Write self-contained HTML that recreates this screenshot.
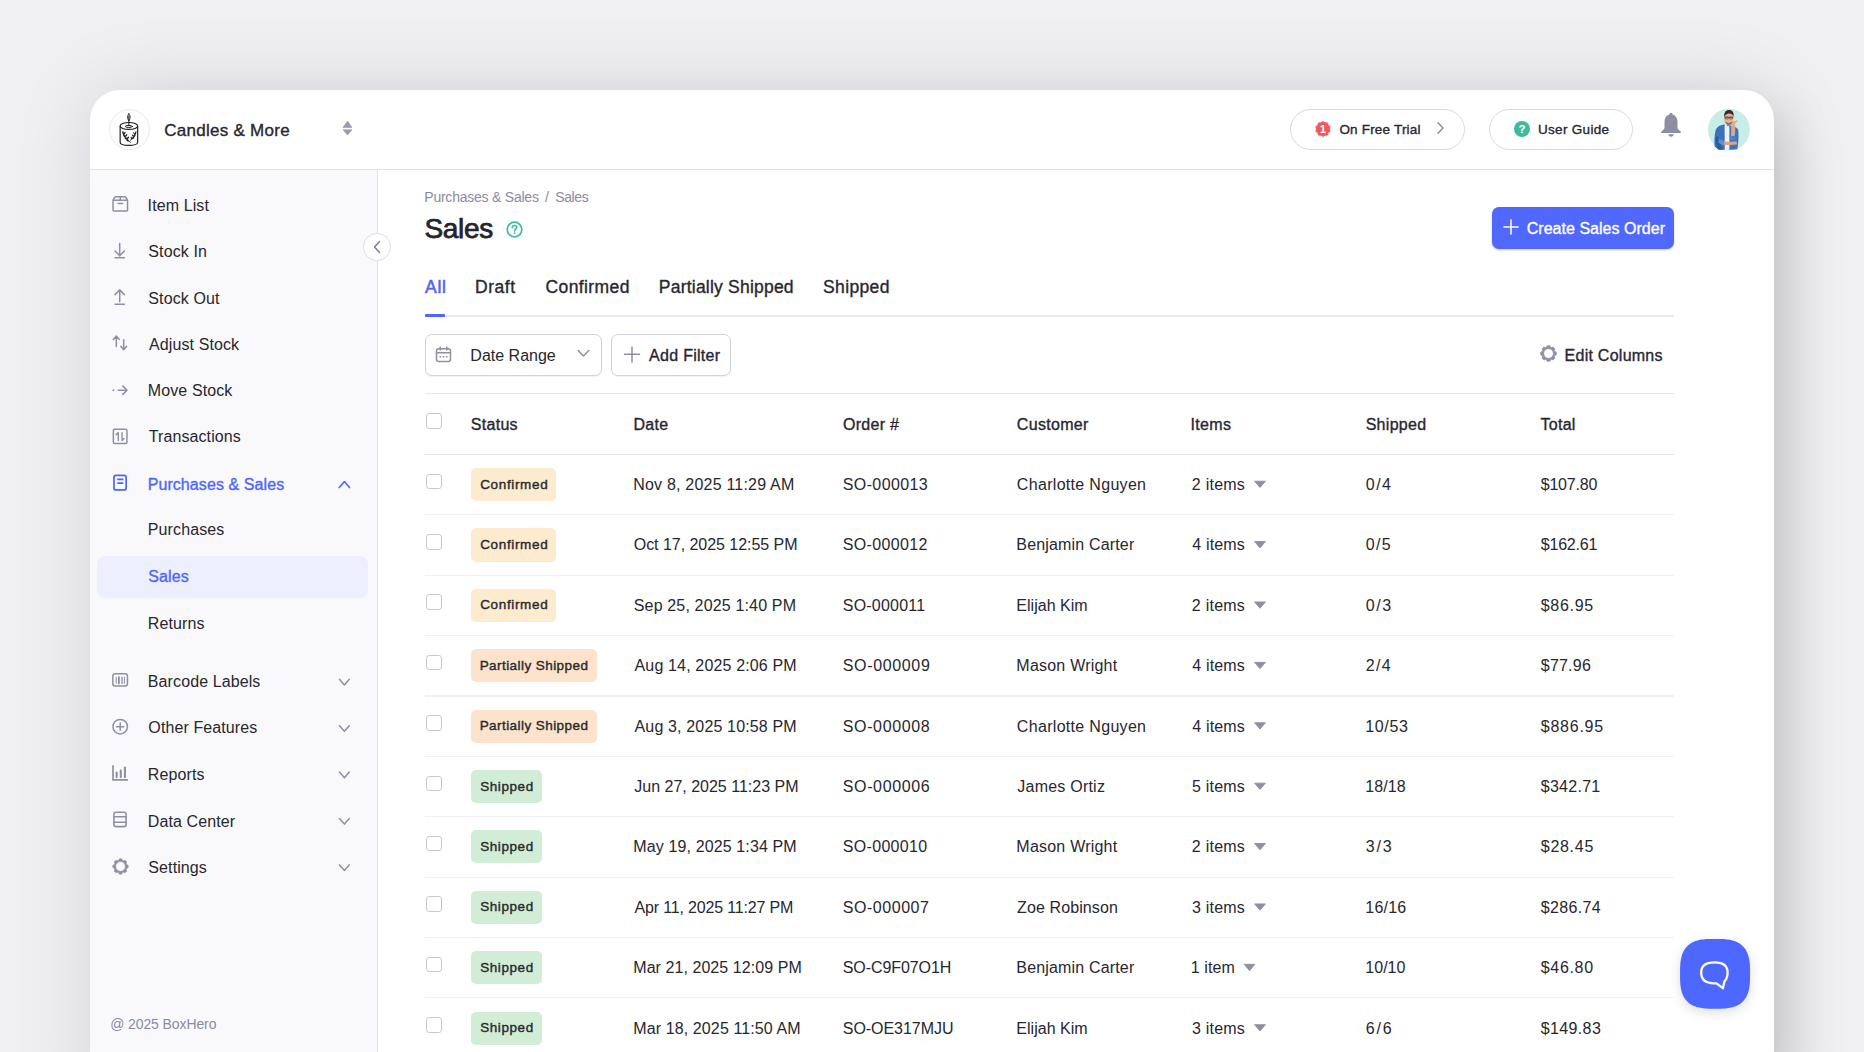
<!DOCTYPE html>
<html><head><meta charset="utf-8">
<style>
*{box-sizing:border-box;margin:0;padding:0}
html,body{width:1864px;height:1052px;overflow:hidden}
body{background:#f0f0f2;font-family:"Liberation Sans",sans-serif;color:#26262e;position:relative}
.card{position:absolute;left:90px;top:90px;width:1684px;height:1030px;background:#fff;border-radius:30px;box-shadow:0 0 80px rgba(20,20,40,0.115),40px 0 50px -30px rgba(0,0,0,0.15);overflow:hidden}
.side{position:absolute;left:0;top:80px;width:288px;height:1000px;background:#f9f9fb;border-right:1px solid #e1e1e8}
.hline{position:absolute;left:0;top:79px;width:100%;height:1px;background:#e1e1e8}
.abs{position:absolute}
.t{position:absolute;white-space:nowrap}
.med{-webkit-text-stroke:0.35px currentColor}
.ic{position:absolute;overflow:visible}
</style></head><body>
<div class="card"><div class="hline"></div><div class="side"></div></div>
<svg class="ic" style="left:0;top:0" width="400" height="1052" viewBox="0 0 400 1052" fill="none" stroke-linecap="round" stroke-linejoin="round"><path d="M113.05 200.2 V210.3 Q113.05 210.95 113.7 210.95 H126.9 Q127.55 210.95 127.55 210.3 V200.2 Z M113.05 200.2 L114.75 197.3 Q115.1 196.7 115.8 196.7 H124.8 Q125.5 196.7 125.85 197.3 L127.55 200.2 M120.3 196.7 V200.2 M118.1 203.6 H122.5" stroke="#8f8fa3" stroke-width="1.5"/><path d="M119.7 243.4 V256 M115.05 251 L119.7 255.7 L124.35 251 M115.05 257.85 H124.35" stroke="#8f8fa3" stroke-width="1.5"/><path d="M119.7 301.8 V290.2 M115.05 294.6 L119.7 289.9 L124.35 294.6 M115.05 304.25 H124.35" stroke="#8f8fa3" stroke-width="1.5"/><path d="M116.3 346.6 V336.2 M113.35 339.5 L116.3 336 L119.25 339.5 M123.7 339.7 V349.6 M120.75 346.3 L123.7 349.8 L126.65 346.3" stroke="#8f8fa3" stroke-width="1.5"/><circle cx="113.4" cy="390.25" r="0.95" fill="#8f8fa3"/><path d="M118.3 390.25 H127.1 M122.8 386.1 L127.1 390.25 L122.8 394.4" stroke="#8f8fa3" stroke-width="1.5"/><rect x="113.35" y="429.25" width="13.6" height="14.3" rx="1.4" stroke="#8f8fa3" stroke-width="1.5"/><path d="M118.3 440.6 V432.6 L116.2 434.8 M122 432.6 V440.6 L124.1 438.4" stroke="#8f8fa3" stroke-width="1.4"/><rect x="113.95" y="475.45" width="12.2" height="14.5" rx="2" stroke="#4e66fb" stroke-width="1.7"/><path d="M117.9 479.4 H122.7 M117.9 483.1 H122.7" stroke="#4e66fb" stroke-width="1.7"/><rect x="112.85" y="673.85" width="14.6" height="12.2" rx="2.2" stroke="#8f8fa3" stroke-width="1.5"/><path d="M116.2 677.2 V683.4" stroke="#8f8fa3" stroke-width="1"/><path d="M118.9 677.2 V683.4" stroke="#8f8fa3" stroke-width="1.8"/><path d="M122 677.2 V683.4" stroke="#8f8fa3" stroke-width="1.3"/><path d="M124.4 677.2 V683.4" stroke="#8f8fa3" stroke-width="1"/><circle cx="120.2" cy="726.65" r="7.25" stroke="#8f8fa3" stroke-width="1.5"/><path d="M120.2 723.1 V730.2 M116.65 726.65 H123.75" stroke="#8f8fa3" stroke-width="1.5"/><path d="M113 765.9 V779.9 H127.2" stroke="#8f8fa3" stroke-width="1.7"/><path d="M116.65 772.6 V777.1 M120.8 770.6 V777.1 M124.95 767.6 V777.1" stroke="#8f8fa3" stroke-width="2.1"/><rect x="113.9" y="812.2" width="12.2" height="14.4" rx="2.2" stroke="#8f8fa3" stroke-width="1.6"/><path d="M113.9 816.8 H126.1 M113.9 822.2 H126.1" stroke="#8f8fa3" stroke-width="1.6"/><path d="M339.3 487.6 L344.4 481.5 L349.5 487.6" stroke="#4e66fb" stroke-width="1.6"/><path d="M339.5 679.3 L344.4 684.9 L349.3 679.3" stroke="#8f8fa3" stroke-width="1.5"/><path d="M339.5 725.7 L344.4 731.3 L349.3 725.7" stroke="#8f8fa3" stroke-width="1.5"/><path d="M339.5 772.1 L344.4 777.7 L349.3 772.1" stroke="#8f8fa3" stroke-width="1.5"/><path d="M339.5 818.5 L344.4 824.1 L349.3 818.5" stroke="#8f8fa3" stroke-width="1.5"/><path d="M339.5 864.9 L344.4 870.5 L349.3 864.9" stroke="#8f8fa3" stroke-width="1.5"/></svg>
<svg class="ic" style="left:111.6px;top:857.6px" width="17" height="17" viewBox="0 0 17 17"><path d="M14.58 6.49 L16.14 7.50 L16.14 9.50 L14.58 10.51 A6.40 6.40 0 0 1 14.22 11.37 L14.60 13.19 L13.19 14.60 L11.37 14.22 A6.40 6.40 0 0 1 10.51 14.58 L9.50 16.14 L7.50 16.14 L6.49 14.58 A6.40 6.40 0 0 1 5.63 14.22 L3.81 14.60 L2.40 13.19 L2.78 11.37 A6.40 6.40 0 0 1 2.42 10.51 L0.86 9.50 L0.86 7.50 L2.42 6.49 A6.40 6.40 0 0 1 2.78 5.63 L2.40 3.81 L3.81 2.40 L5.63 2.78 A6.40 6.40 0 0 1 6.49 2.42 L7.50 0.86 L9.50 0.86 L10.51 2.42 A6.40 6.40 0 0 1 11.37 2.78 L13.19 2.40 L14.60 3.81 L14.22 5.63 A6.40 6.40 0 0 1 14.58 6.49 Z M13.40 8.5 A4.90 4.90 0 1 0 3.60 8.5 A4.90 4.90 0 1 0 13.40 8.5 Z" fill="#8f8fa3" fill-rule="evenodd" stroke="#8f8fa3" stroke-width="0.7" stroke-linejoin="round"/></svg>
<div class="t " style="left:147.60px;top:196px;font-size:16px;line-height:20px;color:#27272f;letter-spacing:0.100px;">Item List</div>
<div class="t " style="left:148.35px;top:242px;font-size:16px;line-height:20px;color:#27272f;letter-spacing:0.100px;">Stock In</div>
<div class="t " style="left:148.35px;top:289px;font-size:16px;line-height:20px;color:#27272f;letter-spacing:0.100px;">Stock Out</div>
<div class="t " style="left:149.10px;top:335px;font-size:16px;line-height:20px;color:#27272f;letter-spacing:0.100px;">Adjust Stock</div>
<div class="t " style="left:147.85px;top:381px;font-size:16px;line-height:20px;color:#27272f;letter-spacing:0.100px;">Move Stock</div>
<div class="t " style="left:148.72px;top:427px;font-size:16px;line-height:20px;color:#27272f;letter-spacing:0.100px;">Transactions</div>
<div class="t med" style="left:147.65px;top:475px;font-size:16px;line-height:20px;color:#4e66fb;letter-spacing:0.083px;">Purchases &amp; Sales</div>
<div class="abs" style="left:97px;top:556.2px;width:271px;height:41.6px;border-radius:8px;background:#edeffe"></div>
<div class="t " style="left:147.85px;top:520px;font-size:16px;line-height:20px;color:#27272f;letter-spacing:0.100px;">Purchases</div>
<div class="t med" style="left:148.35px;top:567px;font-size:16px;line-height:20px;color:#4e66fb;letter-spacing:0.100px;">Sales</div>
<div class="t " style="left:147.85px;top:614px;font-size:16px;line-height:20px;color:#27272f;letter-spacing:0.100px;">Returns</div>
<div class="t " style="left:147.85px;top:672px;font-size:16px;line-height:20px;color:#27272f;letter-spacing:0.100px;">Barcode Labels</div>
<div class="t " style="left:148.35px;top:718px;font-size:16px;line-height:20px;color:#27272f;letter-spacing:0.100px;">Other Features</div>
<div class="t " style="left:147.85px;top:765px;font-size:16px;line-height:20px;color:#27272f;letter-spacing:0.100px;">Reports</div>
<div class="t " style="left:147.85px;top:812px;font-size:16px;line-height:20px;color:#27272f;letter-spacing:0.100px;">Data Center</div>
<div class="t " style="left:148.35px;top:858px;font-size:16px;line-height:20px;color:#27272f;letter-spacing:0.100px;">Settings</div>
<div class="t " style="left:110.17px;top:1015px;font-size:14px;line-height:18px;color:#8b8b9f;letter-spacing:-0.100px;">@ 2025 BoxHero</div>
<div class="abs" style="left:363.3px;top:233px;width:27.5px;height:27.5px;border-radius:50%;border:1px solid #dcdce3;background:#fff"></div>
<svg class="ic" style="left:372px;top:240px" width="10" height="14" viewBox="0 0 10 14"><path d="M7.5 1.5 L2.5 7 L7.5 12.5" stroke="#7d7d93" stroke-width="1.5" fill="none" stroke-linecap="round" stroke-linejoin="round"/></svg>
<div class="abs" style="left:109px;top:109px;width:41px;height:41px;border-radius:50%;border:1px solid #ebebef;background:#fdfdfd"></div>
<svg class="ic" style="left:114px;top:110px" width="30" height="38" viewBox="0 0 30 38" fill="none" stroke="#1e1e1e" stroke-linecap="round" stroke-linejoin="round">
<path d="M14.85 3.9 C16.3 5.6 16.8 8 14.85 10.7 C12.9 8 13.4 5.6 14.85 3.9 Z" stroke-width="0.95"/>
<path d="M14.85 6.2 V10.7 M14.85 10.7 V15.4" stroke-width="1"/>
<ellipse cx="14.9" cy="15.95" rx="8.75" ry="3.45" stroke-width="1.1"/>
<ellipse cx="14.85" cy="16.45" rx="3.6" ry="1.0" stroke-width="1.0"/>
<path d="M6.15 15.95 V32.2 C6.15 34.2 10 35.4 14.9 35.4 C19.8 35.4 23.65 34.2 23.65 32.2 V15.95" stroke-width="1.15"/>
<path d="M8.8 21.3 C10.3 25.5 12.8 29.3 16.6 32.5" stroke-width="0.9"/>
<path d="M22 21.6 C20.6 25.4 18.9 28.2 16.4 30.3" stroke-width="0.9"/>
<g fill="#1e1e1e" stroke="none">
<ellipse cx="9.3" cy="23.6" rx="0.7" ry="1.5" transform="rotate(-35 9.3 23.6)"/>
<ellipse cx="10.8" cy="22.9" rx="0.6" ry="1.3" transform="rotate(30 10.8 22.9)"/>
<ellipse cx="10.3" cy="26" rx="0.75" ry="1.6" transform="rotate(-45 10.3 26)"/>
<ellipse cx="12.3" cy="25.3" rx="0.7" ry="1.4" transform="rotate(35 12.3 25.3)"/>
<ellipse cx="11.8" cy="28.4" rx="0.8" ry="1.6" transform="rotate(-50 11.8 28.4)"/>
<ellipse cx="13.9" cy="27.9" rx="0.75" ry="1.5" transform="rotate(40 13.9 27.9)"/>
<ellipse cx="13.6" cy="30.6" rx="0.8" ry="1.5" transform="rotate(-60 13.6 30.6)"/>
<ellipse cx="21.4" cy="23.6" rx="0.65" ry="1.4" transform="rotate(35 21.4 23.6)"/>
<ellipse cx="20" cy="23.2" rx="0.55" ry="1.2" transform="rotate(-30 20 23.2)"/>
<ellipse cx="20.4" cy="25.9" rx="0.75" ry="1.5" transform="rotate(45 20.4 25.9)"/>
<ellipse cx="18.8" cy="25.6" rx="0.6" ry="1.3" transform="rotate(-35 18.8 25.6)"/>
<ellipse cx="19" cy="28.2" rx="0.8" ry="1.5" transform="rotate(55 19 28.2)"/>
<ellipse cx="17.4" cy="28" rx="0.65" ry="1.3" transform="rotate(-30 17.4 28)"/>
</g></svg>
<div class="t med" style="left:164.22px;top:120px;font-size:17px;line-height:21px;color:#27272f;letter-spacing:0.271px;">Candles &amp; More</div>
<svg class="ic" style="left:342px;top:120px" width="11" height="16" viewBox="0 0 11 16"><path d="M5.5 1 L10 7.5 H1 Z M5.5 15 L10 9.8 H1 Z" fill="#9a9aae" stroke="#9a9aae" stroke-width="0.6" stroke-linejoin="round"/></svg>
<div class="abs" style="left:1290px;top:109px;width:175px;height:41px;border-radius:21px;border:1px solid #d9d9e1;background:#fff"></div>
<svg class="ic" style="left:1315px;top:120.5px" width="16" height="16" viewBox="0 0 16 16"><polygon points="8.00,0.40 10.01,1.82 12.47,1.85 13.26,4.18 15.23,5.65 14.50,8.00 15.23,10.35 13.26,11.82 12.47,14.15 10.01,14.18 8.00,15.60 5.99,14.18 3.53,14.15 2.74,11.82 0.77,10.35 1.50,8.00 0.77,5.65 2.74,4.18 3.53,1.85 5.99,1.82" fill="#ef5a60" stroke="#ef5a60" stroke-width="0.8" stroke-linejoin="round"/><text x="8" y="11.6" text-anchor="middle" font-family="Liberation Sans" font-weight="bold" font-size="10.5" fill="#fff">1</text></svg>
<div class="t med" style="left:1339.38px;top:121px;font-size:13.5px;line-height:17px;color:#27272f;letter-spacing:0.196px;">On Free Trial</div>
<svg class="ic" style="left:1435px;top:121px;" width="10" height="14" viewBox="0 0 10 14" fill="none" stroke-linecap="round" stroke-linejoin="round"><path d="M3 1.8 L8 7 L3 12.2" stroke="#8f8fa3" stroke-width="1.5"/></svg>
<div class="abs" style="left:1489px;top:109px;width:144px;height:41px;border-radius:21px;border:1px solid #d9d9e1;background:#fff"></div>
<svg class="ic" style="left:1514px;top:120.5px" width="16" height="16" viewBox="0 0 16 16"><circle cx="8" cy="8" r="8" fill="#3dbb9c"/><text x="8" y="12.2" text-anchor="middle" font-family="Liberation Sans" font-weight="bold" font-size="11.5" fill="#fff">?</text></svg>
<div class="t med" style="left:1537.90px;top:121px;font-size:13.5px;line-height:17px;color:#27272f;letter-spacing:0.328px;">User Guide</div>
<svg class="ic" style="left:1660px;top:112px;" width="22" height="26" viewBox="0 0 22 26" fill="none" stroke-linecap="round" stroke-linejoin="round"><path d="M11 0.8 C12.1 0.8 12.6 1.6 12.6 2.6 C16 3.6 17.5 6.5 17.5 10 V15.5 C17.5 17 18.6 18 20.6 19.4 C21.3 19.9 21 20.9 20.2 20.9 H1.8 C1 20.9 0.7 19.9 1.4 19.4 C3.4 18 4.5 17 4.5 15.5 V10 C4.5 6.5 6 3.6 9.4 2.6 C9.4 1.6 9.9 0.8 11 0.8 Z" fill="#8e8ea2"/>
<path d="M8.2 22.3 H13.8 C13.6 23.9 12.5 24.8 11 24.8 C9.5 24.8 8.4 23.9 8.2 22.3 Z" fill="#8e8ea2"/></svg>
<svg class="ic" style="left:1704px;top:105px" width="50" height="50" viewBox="0 0 50 50">
<circle cx="24.9" cy="24.6" r="21" fill="#c9ede6"/>
<path d="M10.6 41.5 C10.2 35 10.6 28.5 11.8 24.8 C13 21.4 16.5 19.8 20.8 19.4 L22.5 44.8 L14.5 44.8 Z" fill="#3b72bb"/>
<path d="M11.2 33 C11.5 38 12.5 41.5 14.5 44.5 L19 44.8 C17 40 15 36 14 31 Z" fill="#2b5c9f"/>
<path d="M23 20.3 C27.3 20.5 32 21.4 33.9 24.2 C35 28.2 34.6 36 33.4 44.2 L23.4 45 Z" fill="#3c74be"/>
<path d="M20.6 20.8 L25.4 21.3 L25.4 45 L20.8 45 Z" fill="#f1f1f1"/>
<path d="M16 35.5 C20 36.5 26 37 32.6 36.6 L33 39.6 C27 40.4 20 40 16.5 39 Z" fill="#dca587"/>
<path d="M14.8 34.2 C17 34.6 18.8 35.4 20.2 36.2 L20 40 C17.8 39.6 15.8 38.8 14 37.6 Z" fill="#5b8fd0"/>
<path d="M26.6 34 C27.4 29 27.4 24.5 26.9 19.2 L30.6 18.2 C31.6 22.4 31.2 28.5 30.4 34 Z" fill="#dfa98b"/>
<path d="M26.4 19.4 C26.8 16.8 28.6 15.8 30.4 16.2 L32.6 15.2 C33.8 15 34.2 16 33.2 16.8 L31.4 18.6 C30.4 20.6 28 21 26.4 19.4 Z" fill="#e3ae90"/>
<path d="M26.8 30.5 C28 31.2 30 31.2 31.2 30.6 L31.6 34.4 C30 35.2 28 35 26.6 34.4 Z" fill="#4a82c8"/>
<ellipse cx="24.8" cy="13.6" rx="4.6" ry="6.1" fill="#e6b194"/>
<path d="M20.3 12.6 C19.6 7.4 21.9 5 25.1 5 C28.4 5 30.3 7.6 29.5 12 C28.9 9.3 27.2 8.6 25.1 8.6 C23 8.6 21.1 9.6 20.3 12.6 Z" fill="#3c2a21"/>
<path d="M20.6 12.6 H29.1" stroke="#3a2f2b" stroke-width="0.6"/>
<rect x="21" y="11.7" width="3.4" height="2.2" rx="0.7" fill="none" stroke="#3a2f2b" stroke-width="0.55"/>
<rect x="25.4" y="11.7" width="3.4" height="2.2" rx="0.7" fill="none" stroke="#3a2f2b" stroke-width="0.55"/>
<path d="M21 16.2 C21.8 19.2 23.2 20 24.8 20 C26.6 20 27.8 19 28.6 16.2 C27.6 17.8 22.2 17.8 21 16.2 Z" fill="#7a5142" opacity="0.75"/>
<path d="M22.6 16.6 C23.8 17.6 25.8 17.6 27 16.6 C26.4 18 23.4 18 22.6 16.6 Z" fill="#fff"/>
</svg>
<div class="t " style="left:424.27px;top:188px;font-size:14px;line-height:18px;color:#8b8b9f;letter-spacing:-0.227px;">Purchases &amp; Sales</div>
<div class="t " style="left:545.00px;top:188px;font-size:14px;line-height:18px;color:#8b8b9f;">/</div>
<div class="t " style="left:555.17px;top:188px;font-size:14px;line-height:18px;color:#8b8b9f;letter-spacing:-0.344px;">Sales</div>
<div class="t " style="left:424.45px;top:211px;font-size:28px;line-height:35px;color:#24242c;letter-spacing:-0.287px;-webkit-text-stroke:0.75px #24242c">Sales</div>
<svg class="ic" style="left:505.5px;top:220.5px;" width="17" height="17" viewBox="0 0 17 17" fill="none" stroke-linecap="round" stroke-linejoin="round"><circle cx="8.5" cy="8.5" r="7.3" stroke="#3dbb9c" stroke-width="1.7"/><path d="M6.3 6.6 C6.3 5.2 7.3 4.5 8.5 4.5 C9.8 4.5 10.7 5.3 10.7 6.4 C10.7 7.9 8.6 8 8.6 9.9" stroke="#3dbb9c" stroke-width="1.6"/><circle cx="8.6" cy="12.3" r="0.95" fill="#3dbb9c"/></svg>
<div class="abs" style="left:1492px;top:207px;width:182px;height:42px;border-radius:7px;background:#5068fe;box-shadow:0 1px 2px rgba(40,50,120,0.25)"></div>
<svg class="ic" style="left:1503px;top:219px;" width="16" height="16" viewBox="0 0 16 16" fill="none" stroke-linecap="round" stroke-linejoin="round"><path d="M8 1 V15 M1 8 H15" stroke="#fff" stroke-width="1.6"/></svg>
<div class="t med" style="left:1526.75px;top:219px;font-size:16px;line-height:20px;color:#fff;letter-spacing:0.025px;">Create Sales Order</div>
<div class="t " style="left:425.00px;top:276px;font-size:17.5px;line-height:22px;color:#4e66fb;letter-spacing:0.775px;-webkit-text-stroke:0.55px #4e66fb">All</div>
<div class="t med" style="left:474.93px;top:276px;font-size:17.5px;line-height:22px;color:#27272f;letter-spacing:0.581px;">Draft</div>
<div class="t med" style="left:545.52px;top:276px;font-size:17.5px;line-height:22px;color:#27272f;letter-spacing:0.394px;">Confirmed</div>
<div class="t med" style="left:658.83px;top:276px;font-size:17.5px;line-height:22px;color:#27272f;letter-spacing:0.214px;">Partially Shipped</div>
<div class="t med" style="left:823.05px;top:276px;font-size:17.5px;line-height:22px;color:#27272f;letter-spacing:0.354px;">Shipped</div>
<div class="abs" style="left:425px;top:315px;width:1249px;height:2px;background:#e8e8ee"></div>
<div class="abs" style="left:425px;top:314px;width:20px;height:3px;background:#4e66fb;border-radius:1px"></div>
<div class="abs" style="left:425px;top:334px;width:177px;height:41.5px;border-radius:7px;border:1.5px solid #d2d2dc;background:#fff;box-shadow:0 1px 1.5px rgba(0,0,0,0.06)"></div>
<svg class="ic" style="left:434.5px;top:345.5px;" width="17" height="17" viewBox="0 0 17 17" fill="none" stroke-linecap="round" stroke-linejoin="round"><rect x="1.5" y="2.8" width="14" height="12.7" rx="2.3" stroke="#8f8fa3" stroke-width="1.5"/><path d="M1.5 6.8 H15.5 M5.2 1 V4 M11.8 1 V4" stroke="#8f8fa3" stroke-width="1.5"/><path d="M5 10.7 H5.6 M8.2 10.7 H8.8 M11.4 10.7 H12" stroke="#8f8fa3" stroke-width="1.4"/></svg>
<div class="t " style="left:470.35px;top:346px;font-size:16px;line-height:20px;color:#27272f;letter-spacing:0.000px;">Date Range</div>
<svg class="ic" style="left:577px;top:349px;" width="13" height="9" viewBox="0 0 13 9" fill="none" stroke-linecap="round" stroke-linejoin="round"><path d="M1.2 1.5 L6.5 7 L11.8 1.5" stroke="#8f8fa3" stroke-width="1.5"/></svg>
<div class="abs" style="left:611px;top:334px;width:120px;height:41.5px;border-radius:7px;border:1.5px solid #d2d2dc;background:#fff;box-shadow:0 1px 1.5px rgba(0,0,0,0.06)"></div>
<svg class="ic" style="left:624px;top:345.5px;" width="16" height="17" viewBox="0 0 16 17" fill="none" stroke-linecap="round" stroke-linejoin="round"><path d="M8 1 V16 M0.5 8.2 H15.5" stroke="#8f8fa3" stroke-width="1.5"/></svg>
<div class="t med" style="left:649.10px;top:346px;font-size:16px;line-height:20px;color:#27272f;letter-spacing:0.283px;">Add Filter</div>
<svg class="ic" style="left:1540px;top:345.2px" width="17" height="17" viewBox="0 0 17 17"><path d="M14.65 6.39 L16.27 7.09 L16.27 9.91 L14.65 10.61 A6.50 6.50 0 0 1 14.34 11.36 L15.00 13.00 L13.00 15.00 L11.36 14.34 A6.50 6.50 0 0 1 10.61 14.65 L9.91 16.27 L7.09 16.27 L6.39 14.65 A6.50 6.50 0 0 1 5.64 14.34 L4.00 15.00 L2.00 13.00 L2.66 11.36 A6.50 6.50 0 0 1 2.35 10.61 L0.73 9.91 L0.73 7.09 L2.35 6.39 A6.50 6.50 0 0 1 2.66 5.64 L2.00 4.00 L4.00 2.00 L5.64 2.66 A6.50 6.50 0 0 1 6.39 2.35 L7.09 0.73 L9.91 0.73 L10.61 2.35 A6.50 6.50 0 0 1 11.36 2.66 L13.00 2.00 L15.00 4.00 L14.34 5.64 A6.50 6.50 0 0 1 14.65 6.39 Z M13.35 8.5 A4.85 4.85 0 1 0 3.65 8.5 A4.85 4.85 0 1 0 13.35 8.5 Z" fill="#8f8fa3" fill-rule="evenodd" stroke="#8f8fa3" stroke-width="0.7" stroke-linejoin="round"/></svg>
<div class="t med" style="left:1564.55px;top:346px;font-size:16px;line-height:20px;color:#27272f;letter-spacing:0.257px;">Edit Columns</div>
<div class="abs" style="left:425px;top:393px;width:1249px;height:1.2px;background:#e6e6ec"></div>
<div class="abs" style="left:426px;top:413.2px;width:15.5px;height:15.5px;border-radius:3.2px;border:1.7px solid #c6c6d0;background:#fff"></div>
<div class="t med" style="left:470.75px;top:415px;font-size:16px;line-height:20px;color:#27272f;letter-spacing:0.300px;">Status</div>
<div class="t med" style="left:633.45px;top:415px;font-size:16px;line-height:20px;color:#27272f;letter-spacing:0.300px;">Date</div>
<div class="t med" style="left:842.95px;top:415px;font-size:16px;line-height:20px;color:#27272f;letter-spacing:0.300px;">Order #</div>
<div class="t med" style="left:1016.85px;top:415px;font-size:16px;line-height:20px;color:#27272f;letter-spacing:0.300px;">Customer</div>
<div class="t med" style="left:1190.60px;top:415px;font-size:16px;line-height:20px;color:#27272f;letter-spacing:0.300px;">Items</div>
<div class="t med" style="left:1365.65px;top:415px;font-size:16px;line-height:20px;color:#27272f;letter-spacing:0.300px;">Shipped</div>
<div class="t med" style="left:1540.42px;top:415px;font-size:16px;line-height:20px;color:#27272f;letter-spacing:0.300px;">Total</div>
<div class="abs" style="left:425px;top:453.8px;width:1249px;height:1.4px;background:#e2e2ea"></div>
<div class="abs" style="left:426px;top:473.6px;width:15.5px;height:15.5px;border-radius:3.2px;border:1.7px solid #c6c6d0;background:#fff"></div>
<div class="abs" style="left:471px;top:468.0px;width:85px;height:33.2px;border-radius:5px;background:#fcebcf"></div>
<div class="t " style="left:480.18px;top:476px;font-size:13.5px;line-height:17px;color:#2a2a2e;letter-spacing:0.656px;-webkit-text-stroke:0.4px #2a2a2e">Confirmed</div>
<div class="t " style="left:633.25px;top:475px;font-size:16px;line-height:20px;color:#27272f;letter-spacing:0.204px;">Nov 8, 2025 11:29 AM</div>
<div class="t " style="left:842.75px;top:475px;font-size:16px;line-height:20px;color:#27272f;letter-spacing:0.388px;">SO-000013</div>
<div class="t " style="left:1016.85px;top:475px;font-size:16px;line-height:20px;color:#27272f;letter-spacing:0.310px;">Charlotte Nguyen</div>
<div class="t " style="left:1191.85px;top:475px;font-size:16px;line-height:20px;color:#27272f;letter-spacing:0.238px;">2 items</div>
<svg class="ic" style="left:0;top:0" width="1864" height="1052" viewBox="0 0 1864 1052"><path d="M1254.60 481.19 H1265.40 L1260.00 487.49 Z" fill="#8f8fa3" stroke="#8f8fa3" stroke-width="0.9" stroke-linejoin="round"/></svg>
<div class="t " style="left:1365.78px;top:475px;font-size:16px;line-height:20px;color:#27272f;letter-spacing:1.475px;">0/4</div>
<div class="t " style="left:1540.78px;top:475px;font-size:16px;line-height:20px;color:#27272f;letter-spacing:-0.221px;">$107.80</div>
<div class="abs" style="left:425px;top:514.2px;width:1249px;height:1.2px;background:#f0f0f4"></div>
<div class="abs" style="left:426px;top:534.0px;width:15.5px;height:15.5px;border-radius:3.2px;border:1.7px solid #c6c6d0;background:#fff"></div>
<div class="abs" style="left:471px;top:528.4px;width:85px;height:33.2px;border-radius:5px;background:#fcebcf"></div>
<div class="t " style="left:480.18px;top:536px;font-size:13.5px;line-height:17px;color:#2a2a2e;letter-spacing:0.656px;-webkit-text-stroke:0.4px #2a2a2e">Confirmed</div>
<div class="t " style="left:633.75px;top:535px;font-size:16px;line-height:20px;color:#27272f;letter-spacing:-0.040px;">Oct 17, 2025 12:55 PM</div>
<div class="t " style="left:842.75px;top:535px;font-size:16px;line-height:20px;color:#27272f;letter-spacing:0.341px;">SO-000012</div>
<div class="t " style="left:1016.35px;top:535px;font-size:16px;line-height:20px;color:#27272f;letter-spacing:0.162px;">Benjamin Carter</div>
<div class="t " style="left:1192.22px;top:535px;font-size:16px;line-height:20px;color:#27272f;letter-spacing:0.175px;">4 items</div>
<svg class="ic" style="left:0;top:0" width="1864" height="1052" viewBox="0 0 1864 1052"><path d="M1254.60 541.59 H1265.40 L1260.00 547.88 Z" fill="#8f8fa3" stroke="#8f8fa3" stroke-width="0.9" stroke-linejoin="round"/></svg>
<div class="t " style="left:1365.78px;top:535px;font-size:16px;line-height:20px;color:#27272f;letter-spacing:1.350px;">0/5</div>
<div class="t " style="left:1540.78px;top:535px;font-size:16px;line-height:20px;color:#27272f;letter-spacing:-0.200px;">$162.61</div>
<div class="abs" style="left:425px;top:574.6px;width:1249px;height:1.2px;background:#f0f0f4"></div>
<div class="abs" style="left:426px;top:594.4px;width:15.5px;height:15.5px;border-radius:3.2px;border:1.7px solid #c6c6d0;background:#fff"></div>
<div class="abs" style="left:471px;top:588.8px;width:85px;height:33.2px;border-radius:5px;background:#fcebcf"></div>
<div class="t " style="left:480.18px;top:596px;font-size:13.5px;line-height:17px;color:#2a2a2e;letter-spacing:0.656px;-webkit-text-stroke:0.4px #2a2a2e">Confirmed</div>
<div class="t " style="left:633.75px;top:596px;font-size:16px;line-height:20px;color:#27272f;letter-spacing:0.157px;">Sep 25, 2025 1:40 PM</div>
<div class="t " style="left:842.75px;top:596px;font-size:16px;line-height:20px;color:#27272f;letter-spacing:0.209px;">SO-000011</div>
<div class="t " style="left:1016.35px;top:596px;font-size:16px;line-height:20px;color:#27272f;letter-spacing:0.017px;">Elijah Kim</div>
<div class="t " style="left:1191.85px;top:596px;font-size:16px;line-height:20px;color:#27272f;letter-spacing:0.238px;">2 items</div>
<svg class="ic" style="left:0;top:0" width="1864" height="1052" viewBox="0 0 1864 1052"><path d="M1254.60 601.98 H1265.40 L1260.00 608.27 Z" fill="#8f8fa3" stroke="#8f8fa3" stroke-width="0.9" stroke-linejoin="round"/></svg>
<div class="t " style="left:1365.78px;top:596px;font-size:16px;line-height:20px;color:#27272f;letter-spacing:1.550px;">0/3</div>
<div class="t " style="left:1540.78px;top:596px;font-size:16px;line-height:20px;color:#27272f;letter-spacing:0.695px;">$86.95</div>
<div class="abs" style="left:425px;top:635.0px;width:1249px;height:1.2px;background:#f0f0f4"></div>
<div class="abs" style="left:426px;top:654.8px;width:15.5px;height:15.5px;border-radius:3.2px;border:1.7px solid #c6c6d0;background:#fff"></div>
<div class="abs" style="left:471px;top:649.2px;width:125.5px;height:33.2px;border-radius:5px;background:#fde3cc"></div>
<div class="t " style="left:479.68px;top:657px;font-size:13.5px;line-height:17px;color:#2a2a2e;letter-spacing:0.434px;-webkit-text-stroke:0.4px #2a2a2e">Partially Shipped</div>
<div class="t " style="left:634.50px;top:656px;font-size:16px;line-height:20px;color:#27272f;letter-spacing:0.154px;">Aug 14, 2025 2:06 PM</div>
<div class="t " style="left:842.75px;top:656px;font-size:16px;line-height:20px;color:#27272f;letter-spacing:0.653px;">SO-000009</div>
<div class="t " style="left:1016.35px;top:656px;font-size:16px;line-height:20px;color:#27272f;letter-spacing:0.220px;">Mason Wright</div>
<div class="t " style="left:1192.22px;top:656px;font-size:16px;line-height:20px;color:#27272f;letter-spacing:0.175px;">4 items</div>
<svg class="ic" style="left:0;top:0" width="1864" height="1052" viewBox="0 0 1864 1052"><path d="M1254.60 662.37 H1265.40 L1260.00 668.66 Z" fill="#8f8fa3" stroke="#8f8fa3" stroke-width="0.9" stroke-linejoin="round"/></svg>
<div class="t " style="left:1365.65px;top:656px;font-size:16px;line-height:20px;color:#27272f;letter-spacing:1.438px;">2/4</div>
<div class="t " style="left:1540.78px;top:656px;font-size:16px;line-height:20px;color:#27272f;letter-spacing:0.215px;">$77.96</div>
<div class="abs" style="left:425px;top:695.4px;width:1249px;height:1.2px;background:#f0f0f4"></div>
<div class="abs" style="left:426px;top:715.2px;width:15.5px;height:15.5px;border-radius:3.2px;border:1.7px solid #c6c6d0;background:#fff"></div>
<div class="abs" style="left:471px;top:709.6px;width:125.5px;height:33.2px;border-radius:5px;background:#fde3cc"></div>
<div class="t " style="left:479.68px;top:717px;font-size:13.5px;line-height:17px;color:#2a2a2e;letter-spacing:0.434px;-webkit-text-stroke:0.4px #2a2a2e">Partially Shipped</div>
<div class="t " style="left:634.50px;top:717px;font-size:16px;line-height:20px;color:#27272f;letter-spacing:0.154px;">Aug 3, 2025 10:58 PM</div>
<div class="t " style="left:842.75px;top:717px;font-size:16px;line-height:20px;color:#27272f;letter-spacing:0.638px;">SO-000008</div>
<div class="t " style="left:1016.85px;top:717px;font-size:16px;line-height:20px;color:#27272f;letter-spacing:0.310px;">Charlotte Nguyen</div>
<div class="t " style="left:1192.22px;top:717px;font-size:16px;line-height:20px;color:#27272f;letter-spacing:0.175px;">4 items</div>
<svg class="ic" style="left:0;top:0" width="1864" height="1052" viewBox="0 0 1864 1052"><path d="M1254.60 722.76 H1265.40 L1260.00 729.06 Z" fill="#8f8fa3" stroke="#8f8fa3" stroke-width="0.9" stroke-linejoin="round"/></svg>
<div class="t " style="left:1365.28px;top:717px;font-size:16px;line-height:20px;color:#27272f;letter-spacing:0.637px;">10/53</div>
<div class="t " style="left:1540.78px;top:717px;font-size:16px;line-height:20px;color:#27272f;letter-spacing:0.763px;">$886.95</div>
<div class="abs" style="left:425px;top:755.8px;width:1249px;height:1.2px;background:#f0f0f4"></div>
<div class="abs" style="left:426px;top:775.5px;width:15.5px;height:15.5px;border-radius:3.2px;border:1.7px solid #c6c6d0;background:#fff"></div>
<div class="abs" style="left:471px;top:769.9px;width:71px;height:33.2px;border-radius:5px;background:#d2edd6"></div>
<div class="t " style="left:480.18px;top:778px;font-size:13.5px;line-height:17px;color:#2a2a2e;letter-spacing:0.583px;-webkit-text-stroke:0.4px #2a2a2e">Shipped</div>
<div class="t " style="left:634.25px;top:777px;font-size:16px;line-height:20px;color:#27272f;letter-spacing:-0.002px;">Jun 27, 2025 11:23 PM</div>
<div class="t " style="left:842.75px;top:777px;font-size:16px;line-height:20px;color:#27272f;letter-spacing:0.638px;">SO-000006</div>
<div class="t " style="left:1017.35px;top:777px;font-size:16px;line-height:20px;color:#27272f;letter-spacing:0.220px;">James Ortiz</div>
<div class="t " style="left:1191.97px;top:777px;font-size:16px;line-height:20px;color:#27272f;letter-spacing:0.217px;">5 items</div>
<svg class="ic" style="left:0;top:0" width="1864" height="1052" viewBox="0 0 1864 1052"><path d="M1254.60 783.14 H1265.40 L1260.00 789.44 Z" fill="#8f8fa3" stroke="#8f8fa3" stroke-width="0.9" stroke-linejoin="round"/></svg>
<div class="t " style="left:1365.28px;top:777px;font-size:16px;line-height:20px;color:#27272f;letter-spacing:0.113px;">18/18</div>
<div class="t " style="left:1540.78px;top:777px;font-size:16px;line-height:20px;color:#27272f;letter-spacing:0.267px;">$342.71</div>
<div class="abs" style="left:425px;top:816.1px;width:1249px;height:1.2px;background:#f0f0f4"></div>
<div class="abs" style="left:426px;top:835.9px;width:15.5px;height:15.5px;border-radius:3.2px;border:1.7px solid #c6c6d0;background:#fff"></div>
<div class="abs" style="left:471px;top:830.3px;width:71px;height:33.2px;border-radius:5px;background:#d2edd6"></div>
<div class="t " style="left:480.18px;top:838px;font-size:13.5px;line-height:17px;color:#2a2a2e;letter-spacing:0.583px;-webkit-text-stroke:0.4px #2a2a2e">Shipped</div>
<div class="t " style="left:633.25px;top:837px;font-size:16px;line-height:20px;color:#27272f;letter-spacing:0.128px;">May 19, 2025 1:34 PM</div>
<div class="t " style="left:842.75px;top:837px;font-size:16px;line-height:20px;color:#27272f;letter-spacing:0.325px;">SO-000010</div>
<div class="t " style="left:1016.35px;top:837px;font-size:16px;line-height:20px;color:#27272f;letter-spacing:0.220px;">Mason Wright</div>
<div class="t " style="left:1191.85px;top:837px;font-size:16px;line-height:20px;color:#27272f;letter-spacing:0.238px;">2 items</div>
<svg class="ic" style="left:0;top:0" width="1864" height="1052" viewBox="0 0 1864 1052"><path d="M1254.60 843.54 H1265.40 L1260.00 849.84 Z" fill="#8f8fa3" stroke="#8f8fa3" stroke-width="0.9" stroke-linejoin="round"/></svg>
<div class="t " style="left:1365.78px;top:837px;font-size:16px;line-height:20px;color:#27272f;letter-spacing:1.850px;">3/3</div>
<div class="t " style="left:1540.78px;top:837px;font-size:16px;line-height:20px;color:#27272f;letter-spacing:0.715px;">$28.45</div>
<div class="abs" style="left:425px;top:876.5px;width:1249px;height:1.2px;background:#f0f0f4"></div>
<div class="abs" style="left:426px;top:896.3px;width:15.5px;height:15.5px;border-radius:3.2px;border:1.7px solid #c6c6d0;background:#fff"></div>
<div class="abs" style="left:471px;top:890.7px;width:71px;height:33.2px;border-radius:5px;background:#d2edd6"></div>
<div class="t " style="left:480.18px;top:898px;font-size:13.5px;line-height:17px;color:#2a2a2e;letter-spacing:0.583px;-webkit-text-stroke:0.4px #2a2a2e">Shipped</div>
<div class="t " style="left:634.50px;top:898px;font-size:16px;line-height:20px;color:#27272f;letter-spacing:-0.169px;">Apr 11, 2025 11:27 PM</div>
<div class="t " style="left:842.75px;top:898px;font-size:16px;line-height:20px;color:#27272f;letter-spacing:0.541px;">SO-000007</div>
<div class="t " style="left:1017.10px;top:898px;font-size:16px;line-height:20px;color:#27272f;letter-spacing:0.098px;">Zoe Robinson</div>
<div class="t " style="left:1191.97px;top:898px;font-size:16px;line-height:20px;color:#27272f;letter-spacing:0.217px;">3 items</div>
<svg class="ic" style="left:0;top:0" width="1864" height="1052" viewBox="0 0 1864 1052"><path d="M1254.60 903.93 H1265.40 L1260.00 910.23 Z" fill="#8f8fa3" stroke="#8f8fa3" stroke-width="0.9" stroke-linejoin="round"/></svg>
<div class="t " style="left:1365.28px;top:898px;font-size:16px;line-height:20px;color:#27272f;letter-spacing:0.238px;">16/16</div>
<div class="t " style="left:1540.78px;top:898px;font-size:16px;line-height:20px;color:#27272f;letter-spacing:0.321px;">$286.74</div>
<div class="abs" style="left:425px;top:936.9px;width:1249px;height:1.2px;background:#f0f0f4"></div>
<div class="abs" style="left:426px;top:956.7px;width:15.5px;height:15.5px;border-radius:3.2px;border:1.7px solid #c6c6d0;background:#fff"></div>
<div class="abs" style="left:471px;top:951.1px;width:71px;height:33.2px;border-radius:5px;background:#d2edd6"></div>
<div class="t " style="left:480.18px;top:959px;font-size:13.5px;line-height:17px;color:#2a2a2e;letter-spacing:0.583px;-webkit-text-stroke:0.4px #2a2a2e">Shipped</div>
<div class="t " style="left:633.25px;top:958px;font-size:16px;line-height:20px;color:#27272f;letter-spacing:0.064px;">Mar 21, 2025 12:09 PM</div>
<div class="t " style="left:842.75px;top:958px;font-size:16px;line-height:20px;color:#27272f;letter-spacing:-0.077px;">SO-C9F07O1H</div>
<div class="t " style="left:1016.35px;top:958px;font-size:16px;line-height:20px;color:#27272f;letter-spacing:0.162px;">Benjamin Carter</div>
<div class="t " style="left:1190.67px;top:958px;font-size:16px;line-height:20px;color:#27272f;letter-spacing:0.145px;">1 item</div>
<svg class="ic" style="left:0;top:0" width="1864" height="1052" viewBox="0 0 1864 1052"><path d="M1244.10 964.32 H1254.90 L1249.50 970.62 Z" fill="#8f8fa3" stroke="#8f8fa3" stroke-width="0.9" stroke-linejoin="round"/></svg>
<div class="t " style="left:1365.28px;top:958px;font-size:16px;line-height:20px;color:#27272f;letter-spacing:0.038px;">10/10</div>
<div class="t " style="left:1540.78px;top:958px;font-size:16px;line-height:20px;color:#27272f;letter-spacing:0.675px;">$46.80</div>
<div class="abs" style="left:425px;top:997.3px;width:1249px;height:1.2px;background:#f0f0f4"></div>
<div class="abs" style="left:426px;top:1017.1px;width:15.5px;height:15.5px;border-radius:3.2px;border:1.7px solid #c6c6d0;background:#fff"></div>
<div class="abs" style="left:471px;top:1011.5px;width:71px;height:33.2px;border-radius:5px;background:#d2edd6"></div>
<div class="t " style="left:480.18px;top:1019px;font-size:13.5px;line-height:17px;color:#2a2a2e;letter-spacing:0.583px;-webkit-text-stroke:0.4px #2a2a2e">Shipped</div>
<div class="t " style="left:633.25px;top:1019px;font-size:16px;line-height:20px;color:#27272f;letter-spacing:0.114px;">Mar 18, 2025 11:50 AM</div>
<div class="t " style="left:842.75px;top:1019px;font-size:16px;line-height:20px;color:#27272f;letter-spacing:-0.045px;">SO-OE317MJU</div>
<div class="t " style="left:1016.35px;top:1019px;font-size:16px;line-height:20px;color:#27272f;letter-spacing:0.017px;">Elijah Kim</div>
<div class="t " style="left:1191.97px;top:1019px;font-size:16px;line-height:20px;color:#27272f;letter-spacing:0.217px;">3 items</div>
<svg class="ic" style="left:0;top:0" width="1864" height="1052" viewBox="0 0 1864 1052"><path d="M1254.60 1024.70 H1265.40 L1260.00 1031.01 Z" fill="#8f8fa3" stroke="#8f8fa3" stroke-width="0.9" stroke-linejoin="round"/></svg>
<div class="t " style="left:1365.65px;top:1019px;font-size:16px;line-height:20px;color:#27272f;letter-spacing:1.862px;">6/6</div>
<div class="t " style="left:1540.78px;top:1019px;font-size:16px;line-height:20px;color:#27272f;letter-spacing:0.362px;">$149.83</div>
<svg class="ic" style="left:0;top:0;filter:drop-shadow(0 4px 6px rgba(0,0,0,0.12))" width="1864" height="1052" viewBox="0 0 1864 1052"><polygon points="1750.05,973.85 1750.03,977.88 1749.98,980.25 1749.89,982.22 1749.76,983.98 1749.60,985.59 1749.40,987.08 1749.17,988.48 1748.90,989.80 1748.59,991.05 1748.25,992.25 1747.87,993.38 1747.46,994.47 1747.01,995.50 1746.52,996.49 1746.00,997.44 1745.44,998.34 1744.84,999.20 1744.21,1000.02 1743.54,1000.81 1742.83,1001.55 1742.08,1002.26 1741.30,1002.93 1740.47,1003.56 1739.61,1004.15 1738.70,1004.71 1737.76,1005.23 1736.76,1005.72 1735.72,1006.17 1734.64,1006.58 1733.50,1006.96 1732.30,1007.30 1731.05,1007.60 1729.72,1007.87 1728.32,1008.10 1726.82,1008.30 1725.21,1008.46 1723.45,1008.59 1721.46,1008.68 1719.09,1008.73 1715.05,1008.75 1711.01,1008.73 1708.64,1008.68 1706.65,1008.59 1704.89,1008.46 1703.28,1008.30 1701.78,1008.10 1700.38,1007.87 1699.05,1007.60 1697.80,1007.30 1696.60,1006.96 1695.46,1006.58 1694.38,1006.17 1693.34,1005.72 1692.34,1005.23 1691.40,1004.71 1690.49,1004.15 1689.63,1003.56 1688.80,1002.93 1688.02,1002.26 1687.27,1001.55 1686.56,1000.81 1685.89,1000.02 1685.26,999.20 1684.66,998.34 1684.10,997.44 1683.58,996.49 1683.09,995.50 1682.64,994.47 1682.23,993.38 1681.85,992.25 1681.51,991.05 1681.20,989.80 1680.93,988.48 1680.70,987.08 1680.50,985.59 1680.34,983.98 1680.21,982.22 1680.12,980.25 1680.07,977.88 1680.05,973.85 1680.07,969.82 1680.12,967.45 1680.21,965.48 1680.34,963.72 1680.50,962.11 1680.70,960.62 1680.93,959.22 1681.20,957.90 1681.51,956.65 1681.85,955.45 1682.23,954.32 1682.64,953.23 1683.09,952.20 1683.58,951.21 1684.10,950.26 1684.66,949.36 1685.26,948.50 1685.89,947.68 1686.56,946.89 1687.27,946.15 1688.02,945.44 1688.80,944.77 1689.63,944.14 1690.49,943.55 1691.40,942.99 1692.34,942.47 1693.34,941.98 1694.38,941.53 1695.46,941.12 1696.60,940.74 1697.80,940.40 1699.05,940.10 1700.38,939.83 1701.78,939.60 1703.28,939.40 1704.89,939.24 1706.65,939.11 1708.64,939.02 1711.01,938.97 1715.05,938.95 1719.09,938.97 1721.46,939.02 1723.45,939.11 1725.21,939.24 1726.82,939.40 1728.32,939.60 1729.72,939.83 1731.05,940.10 1732.30,940.40 1733.50,940.74 1734.64,941.12 1735.72,941.53 1736.76,941.98 1737.76,942.47 1738.70,942.99 1739.61,943.55 1740.47,944.14 1741.30,944.77 1742.08,945.44 1742.83,946.15 1743.54,946.89 1744.21,947.68 1744.84,948.50 1745.44,949.36 1746.00,950.26 1746.52,951.21 1747.01,952.20 1747.46,953.23 1747.87,954.32 1748.25,955.45 1748.59,956.65 1748.90,957.90 1749.17,959.22 1749.40,960.62 1749.60,962.11 1749.76,963.72 1749.89,965.48 1749.98,967.45 1750.03,969.82" fill="#4e68ff"/></svg>
<svg class="ic" style="left:0;top:0" width="1864" height="1052" viewBox="0 0 1864 1052" fill="none"><path d="M1716.4 983.3 L1722.9 988.2 L1724.4 981.6 C1726.7 979.2 1727.6 976.5 1727.6 972.6 C1727.6 965.2 1723 962.4 1714.4 962.4 C1705.8 962.4 1701.2 965.2 1701.2 972.6 C1701.2 980.4 1705.6 983.3 1714 983.3 Z" stroke="#fff" stroke-width="2.3" stroke-linejoin="round"/></svg>
</body></html>
